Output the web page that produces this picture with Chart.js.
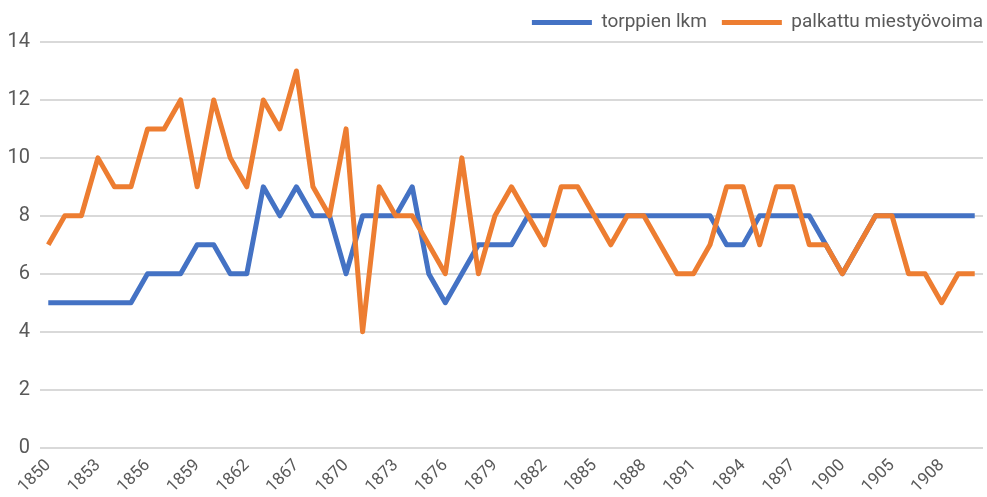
<!DOCTYPE html>
<html>
<head>
<meta charset="utf-8">
<script src="https://cdn.jsdelivr.net/npm/chart.js@4"></script>
<style>
  html, body { margin: 0; padding: 0; background: #fff; }
  #wrap { width: 987px; height: 497px; }
</style>
</head>
<body>
<div id="wrap"><canvas id="chart"></canvas></div>
<script>
const years = [
  '1850', '1851', '1852', '1853', '1854', '1855', '1856', '1857', '1858', '1859',
  '1860', '1861', '1862', '1864', '1866', '1867', '1868', '1869', '1870', '1871',
  '1872', '1873', '1874', '1875', '1876', '1877', '1878', '1879', '1880', '1881',
  '1882', '1883', '1884', '1885', '1886', '1887', '1888', '1889', '1890', '1891',
  '1892', '1893', '1894', '1895', '1896', '1897', '1898', '1899', '1900', '1902',
  '1904', '1905', '1906', '1907', '1908', '1909', '1910'
];

const torpat = [
  5, 5, 5, 5, 5, 5, 6, 6, 6, 7,
  7, 6, 6, 9, 8, 9, 8, 8, 6, 8,
  8, 8, 9, 6, 5, 6, 7, 7, 7, 8,
  8, 8, 8, 8, 8, 8, 8, 8, 8, 8,
  8, 7, 7, 8, 8, 8, 8, 7, 6, 7,
  8, 8, 8, 8, 8, 8, 8
];

const palkattu = [
  7, 8, 8, 10, 9, 9, 11, 11, 12, 9,
  12, 10, 9, 12, 11, 13, 9, 8, 11, 4,
  9, 8, 8, 7, 6, 10, 6, 8, 9, 8,
  7, 9, 9, 8, 7, 8, 8, 7, 6, 6,
  7, 9, 9, 7, 9, 9, 7, 7, 6, 7,
  8, 8, 6, 6, 5, 6, 6
];

const yTicks = [0, 2, 4, 6, 8, 10, 12, 14];

const grey = '#595959';

// nudge legend so the last label ends near the right edge, as in the original
const legendShift = {
  id: 'legendShift',
  afterLayout(chart) {
    if (chart.legend) chart.legend.right += 15;
  }
};

new Chart(document.getElementById('chart'), {
  type: 'line',
  data: {
    labels: years,
    datasets: [
      {
        label: 'torppien lkm',
        data: torpat,
        borderColor: '#4472C4',
        backgroundColor: '#4472C4',
        borderWidth: 5,
        pointRadius: 0,
        borderJoinStyle: 'round',
        tension: 0,
        order: 2
      },
      {
        label: 'palkattu miestyövoima',
        data: palkattu,
        borderColor: '#ED7D31',
        backgroundColor: '#ED7D31',
        borderWidth: 5,
        pointRadius: 0,
        borderJoinStyle: 'round',
        tension: 0,
        order: 1
      }
    ]
  },
  options: {
    responsive: true,
    maintainAspectRatio: false,
    animation: false,
    layout: { padding: { left: 8, right: 4, top: -2, bottom: 0 } },
    plugins: {
      tooltip: { enabled: false },
      legend: {
        position: 'top',
        align: 'end',
        labels: {
          color: grey,
          font: { family: 'Roboto', size: 19 },
          boxWidth: 60,
          boxHeight: 5,
          padding: 15,
          sort: (a, b) => a.datasetIndex - b.datasetIndex,
          generateLabels: chart => {
            const items = Chart.defaults.plugins.legend.labels.generateLabels(chart);
            return items.map(it => Object.assign(it, { lineWidth: 0, fillStyle: it.strokeStyle }));
          }
        }
      }
    },
    scales: {
      x: {
        offset: true,
        grid: { display: false },
        border: { display: false },
        afterFit: axis => { axis.paddingLeft = 0; axis.paddingRight = 0; },
        ticks: {
          color: grey,
          font: { family: 'Roboto', size: 17 },
          autoSkip: false,
          maxRotation: 45,
          minRotation: 45,
          padding: 0,
          callback: function (val, i) {
            return i % 3 === 0 ? this.getLabelForValue(val) : '';
          }
        }
      },
      y: {
        min: 0,
        max: 14,
        afterBuildTicks: axis => { axis.ticks = yTicks.map(v => ({ value: v })); },
        afterFit: axis => { axis.width = 32; },
        grid: { color: '#d9d9d9', lineWidth: 2, drawTicks: false },
        border: { display: false },
        ticks: {
          color: grey,
          font: { family: 'Roboto', size: 20 },
          padding: 10
        }
      }
    }
  },
  plugins: [legendShift]
});
</script>
</body>
</html>
